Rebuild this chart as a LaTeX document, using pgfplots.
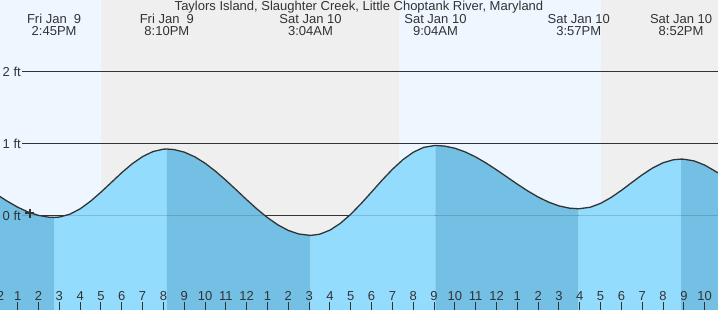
\documentclass[border=0pt]{standalone}
\usepackage{fontspec}
\setmainfont{Liberation Sans}
\usepackage{pgfplots}
\pgfplotsset{compat=1.18}
\definecolor{daycol}{RGB}{238,247,255}
\definecolor{nightcol}{RGB}{239,239,239}
\definecolor{lightfill}{RGB}{148,220,254}
\definecolor{darkfill}{RGB}{115,192,228}
\definecolor{linecol}{RGB}{51,51,51}
\newcommand{\lbl}{\fontsize{13bp}{15bp}\selectfont}
\begin{document}
\begin{tikzpicture}
\begin{axis}[
  at={(0,0)}, anchor=south west,
  scale only axis, width=718bp, height=310bp,
  xmin=12.15, xmax=46.64, ymin=-1.306, ymax=3.0,
  axis line style={draw=none},
  axis on top,
  clip=false,
  /pgf/number format/assume math mode=true,
  xtick={13,...,46},
  xticklabels={1,2,3,4,5,6,7,8,9,10,11,12,1,2,3,4,5,6,7,8,9,10,11,12,1,2,3,4,5,6,7,8,9,10},
  xtick pos=left,
  ytick={0,1,2}, yticklabels={0 ft,1 ft,2 ft}, ytick pos=left,
  ytick style={draw=none},
  tick align=inside,
  major tick length=8bp,
  xtick style={draw=linecol, line width=1bp},
  xticklabel style={anchor=base, inner sep=0pt, yshift=10bp, font=\lbl, text=linecol},
  yticklabel style={anchor=west, inner sep=0pt, xshift=2.5bp, font=\lbl, text=linecol},
  extra x ticks={24}, extra x tick labels={},
  extra x tick style={tick style={draw=linecol, line width=3bp}},
]
% day / night background
\addplot[fill=daycol, draw=none] coordinates {(12.15,-1.306) (12.15,3.0) (17.0,3.0) (17.0,-1.306)} -- cycle;
\addplot[fill=nightcol, draw=none] coordinates {(17.0,-1.306) (17.0,3.0) (31.32,3.0) (31.32,-1.306)} -- cycle;
\addplot[fill=daycol, draw=none] coordinates {(31.32,-1.306) (31.32,3.0) (41.02,3.0) (41.02,-1.306)} -- cycle;
\addplot[fill=nightcol, draw=none] coordinates {(41.02,-1.306) (41.02,3.0) (46.64,3.0) (46.64,-1.306)} -- cycle;
% grid lines
\draw[linecol, line width=1bp] (axis cs:13.21,0) -- (axis cs:46.64,0);
\draw[linecol, line width=1bp] (axis cs:13.21,1) -- (axis cs:46.64,1);
\draw[linecol, line width=1bp] (axis cs:13.21,2) -- (axis cs:46.64,2);
% tide fills
\addplot[fill=darkfill, draw=none] coordinates {(12.15,-1.306) (12.15,0.27) (12.5,0.205) (13.0,0.122) (13.5,0.055) (14.0,0.008) (14.5,-0.017) (14.75,-0.02) (14.75,-1.306)} -- cycle;
\addplot[fill=lightfill, draw=none] coordinates {(14.75,-1.306) (14.75,-0.02) (15.0,-0.015) (15.5,0.024) (16.0,0.099) (16.5,0.205) (17.0,0.331) (17.5,0.466) (18.0,0.602) (18.5,0.725) (19.0,0.825) (19.5,0.895) (20.0,0.928) (20.167,0.93) (20.167,-1.306)} -- cycle;
\addplot[fill=darkfill, draw=none] coordinates {(20.167,-1.306) (20.167,0.93) (20.5,0.923) (21.0,0.887) (21.5,0.823) (22.0,0.733) (22.5,0.622) (23.0,0.496) (23.5,0.362) (24.0,0.226) (24.5,0.095) (25.0,-0.023) (25.5,-0.124) (26.0,-0.201) (26.5,-0.250) (27.067,-0.27) (27.067,-1.306)} -- cycle;
\addplot[fill=lightfill, draw=none] coordinates {(27.067,-1.306) (27.067,-0.27) (27.5,-0.254) (28.0,-0.197) (28.5,-0.102) (29.0,0.024) (29.5,0.173) (30.0,0.333) (30.5,0.496) (31.0,0.648) (31.5,0.781) (32.0,0.885) (32.5,0.953) (33.067,0.98) (33.067,-1.306)} -- cycle;
\addplot[fill=darkfill, draw=none] coordinates {(33.067,-1.306) (33.067,0.98) (33.5,0.971) (34.0,0.941) (34.5,0.889) (35.0,0.820) (35.5,0.735) (36.0,0.641) (36.5,0.542) (37.0,0.442) (37.5,0.348) (38.0,0.263) (38.5,0.193) (39.0,0.140) (39.5,0.109) (39.95,0.10) (39.95,-1.306)} -- cycle;
\addplot[fill=lightfill, draw=none] coordinates {(39.95,-1.306) (39.95,0.10) (40.5,0.121) (41.0,0.175) (41.5,0.256) (42.0,0.356) (42.5,0.465) (43.0,0.572) (43.5,0.667) (44.0,0.739) (44.5,0.781) (44.867,0.79) (44.867,-1.306)} -- cycle;
\addplot[fill=darkfill, draw=none] coordinates {(44.867,-1.306) (44.867,0.79) (45.0,0.789) (45.5,0.764) (46.0,0.707) (46.64,0.60) (46.64,-1.306)} -- cycle;
% zero line seen through water
\draw[linecol, draw opacity=0.2, line width=1bp] (axis cs:13.21,0) -- (axis cs:46.64,0);
% tide curve
\addplot[linecol, line width=1.3bp] coordinates {(12.15,0.27) (12.5,0.205) (13.0,0.122) (13.5,0.055) (14.0,0.008) (14.5,-0.017) (14.75,-0.02) (15.0,-0.015) (15.5,0.024) (16.0,0.099) (16.5,0.205) (17.0,0.331) (17.5,0.466) (18.0,0.602) (18.5,0.725) (19.0,0.825) (19.5,0.895) (20.0,0.928) (20.167,0.93) (20.5,0.923) (21.0,0.887) (21.5,0.823) (22.0,0.733) (22.5,0.622) (23.0,0.496) (23.5,0.362) (24.0,0.226) (24.5,0.095) (25.0,-0.023) (25.5,-0.124) (26.0,-0.201) (26.5,-0.250) (27.067,-0.27) (27.5,-0.254) (28.0,-0.197) (28.5,-0.102) (29.0,0.024) (29.5,0.173) (30.0,0.333) (30.5,0.496) (31.0,0.648) (31.5,0.781) (32.0,0.885) (32.5,0.953) (33.067,0.98) (33.5,0.971) (34.0,0.941) (34.5,0.889) (35.0,0.820) (35.5,0.735) (36.0,0.641) (36.5,0.542) (37.0,0.442) (37.5,0.348) (38.0,0.263) (38.5,0.193) (39.0,0.140) (39.5,0.109) (39.95,0.10) (40.5,0.121) (41.0,0.175) (41.5,0.256) (42.0,0.356) (42.5,0.465) (43.0,0.572) (43.5,0.667) (44.0,0.739) (44.5,0.781) (44.867,0.79) (45.0,0.789) (45.5,0.764) (46.0,0.707) (46.64,0.60)};
% current time marker
\addplot[only marks, mark=+, mark size=4.5bp, line width=1.2bp, linecol] coordinates {(13.59,0.04)};
% partially visible first hour label
\node[anchor=base, font=\lbl, text=linecol, inner sep=0pt] at (axis cs:12,-1.306) [yshift=10bp] {12};
% title and extreme labels
\node[anchor=base, font=\lbl, text=linecol, inner sep=0pt] at (rel axis cs:0.5,1) [yshift=-11bp] {Taylors Island, Slaughter Creek, Little Choptank River, Maryland};
\node[anchor=base, font=\lbl, text=linecol, inner sep=0pt] at (axis cs:14.75,3) [yshift=-24bp] {Fri Jan\ \ 9};
\node[anchor=base, font=\lbl, text=linecol, inner sep=0pt] at (axis cs:14.75,3) [yshift=-36bp] {2:45PM};
\node[anchor=base, font=\lbl, text=linecol, inner sep=0pt] at (axis cs:20.167,3) [yshift=-24bp] {Fri Jan\ \ 9};
\node[anchor=base, font=\lbl, text=linecol, inner sep=0pt] at (axis cs:20.167,3) [yshift=-36bp] {8:10PM};
\node[anchor=base, font=\lbl, text=linecol, inner sep=0pt] at (axis cs:27.067,3) [yshift=-24bp] {Sat Jan 10};
\node[anchor=base, font=\lbl, text=linecol, inner sep=0pt] at (axis cs:27.067,3) [yshift=-36bp] {3:04AM};
\node[anchor=base, font=\lbl, text=linecol, inner sep=0pt] at (axis cs:33.067,3) [yshift=-24bp] {Sat Jan 10};
\node[anchor=base, font=\lbl, text=linecol, inner sep=0pt] at (axis cs:33.067,3) [yshift=-36bp] {9:04AM};
\node[anchor=base, font=\lbl, text=linecol, inner sep=0pt] at (axis cs:39.95,3) [yshift=-24bp] {Sat Jan 10};
\node[anchor=base, font=\lbl, text=linecol, inner sep=0pt] at (axis cs:39.95,3) [yshift=-36bp] {3:57PM};
\node[anchor=base, font=\lbl, text=linecol, inner sep=0pt] at (axis cs:44.867,3) [yshift=-24bp] {Sat Jan 10};
\node[anchor=base, font=\lbl, text=linecol, inner sep=0pt] at (axis cs:44.867,3) [yshift=-36bp] {8:52PM};
\end{axis}
\pgfresetboundingbox
\useasboundingbox (0,0) rectangle (718bp,310bp);
\end{tikzpicture}
\end{document}
